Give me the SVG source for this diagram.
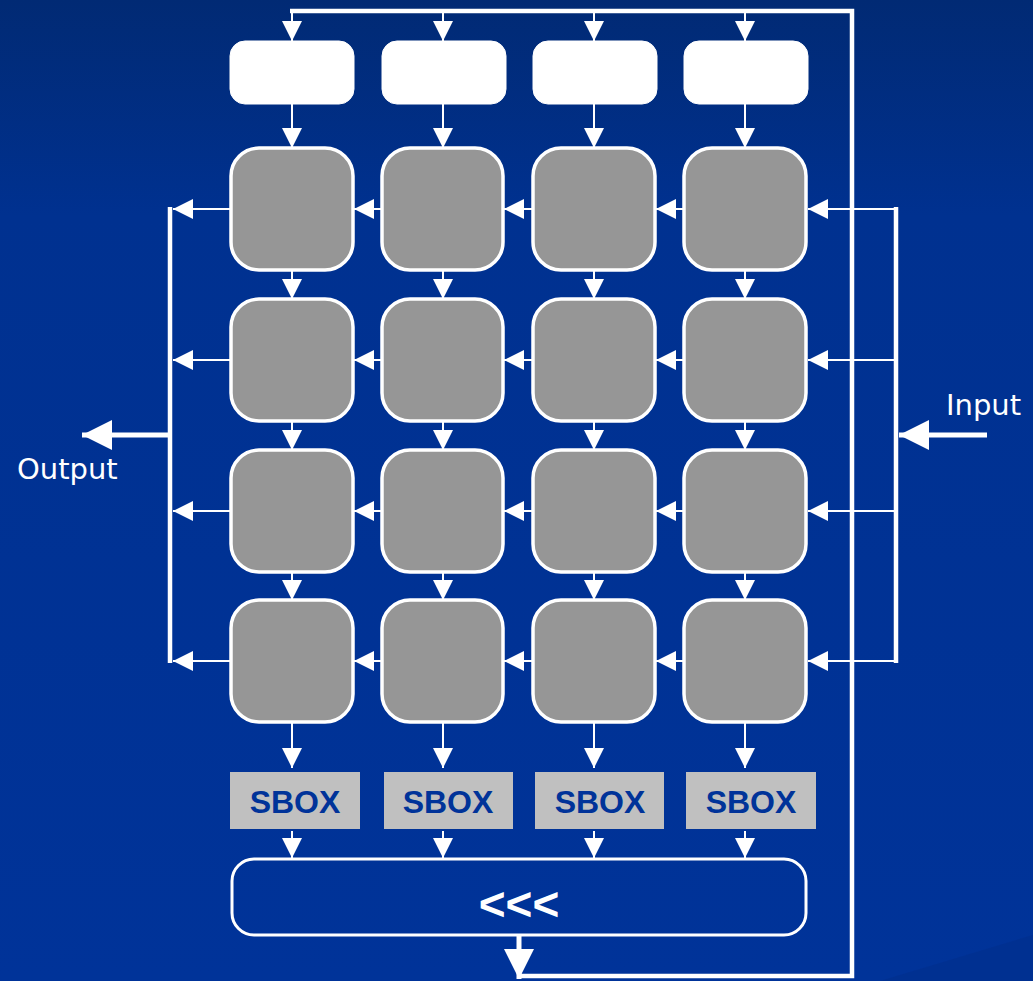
<svg xmlns="http://www.w3.org/2000/svg" width="1033" height="981" viewBox="0 0 1033 981">
<defs>
<linearGradient id="bg" x1="0" y1="0" x2="0" y2="1">
<stop offset="0" stop-color="#012a74"/>
<stop offset="0.22" stop-color="#003190"/>
<stop offset="1" stop-color="#003399"/>
</linearGradient>
<marker id="ah" markerUnits="userSpaceOnUse" markerWidth="20" markerHeight="20" refX="20" refY="10" orient="auto" viewBox="0 0 20 20">
<path d="M0,0 L20,10 L0,20 z" fill="#fff"/>
</marker>
<marker id="ahb" markerUnits="userSpaceOnUse" markerWidth="30" markerHeight="30" refX="30" refY="15" orient="auto" viewBox="0 0 30 30">
<path d="M0,0 L30,15 L0,30 z" fill="#fff"/>
</marker>
</defs>
<style>
.wb{fill:#fff;stroke:#fff;stroke-width:1}
.gb{fill:#969696;stroke:#fff;stroke-width:3.5}
.sb{fill:#c0c0c0}
.st{font-family:"Liberation Sans",Arial,sans-serif;font-weight:bold;font-size:32px;fill:#003399;text-anchor:middle}
.ca{stroke:#fff;stroke-width:2;fill:none;marker-end:url(#ah)}
.bus{stroke:#fff;stroke-width:4.5;fill:none}
.lbl{font-family:"DejaVu Sans",sans-serif;font-size:29px;fill:#fff}
</style>
<rect x="0" y="0" width="1033" height="981" fill="url(#bg)"/>
<path d="M880,981 L1033,935 L1033,981 z" fill="#002f8c" opacity="0.6"/>

<g id="connectors">
<path class="bus" d="M519,976 L852,976 L852,11 L290,11"/>
<path class="ca" d="M292,11 V41"/>
<path class="ca" d="M443,11 V41"/>
<path class="ca" d="M594,11 V41"/>
<path class="ca" d="M745,11 V41"/>
<path class="ca" d="M292,104 V148"/>
<path class="ca" d="M443,104 V148"/>
<path class="ca" d="M594,104 V148"/>
<path class="ca" d="M745,104 V148"/>
<path class="ca" d="M292,270 V299"/>
<path class="ca" d="M443,270 V299"/>
<path class="ca" d="M594,270 V299"/>
<path class="ca" d="M745,270 V299"/>
<path class="ca" d="M292,421 V450"/>
<path class="ca" d="M443,421 V450"/>
<path class="ca" d="M594,421 V450"/>
<path class="ca" d="M745,421 V450"/>
<path class="ca" d="M292,572 V600"/>
<path class="ca" d="M443,572 V600"/>
<path class="ca" d="M594,572 V600"/>
<path class="ca" d="M745,572 V600"/>
<path class="ca" d="M292,723 V768"/>
<path class="ca" d="M443,723 V768"/>
<path class="ca" d="M594,723 V768"/>
<path class="ca" d="M745,723 V768"/>
<path class="ca" d="M292,831 V858"/>
<path class="ca" d="M443,831 V858"/>
<path class="ca" d="M594,831 V858"/>
<path class="ca" d="M745,831 V858"/>
<path d="M519,936 V979" stroke="#fff" stroke-width="5" marker-end="url(#ahb)"/>
<path class="ca" d="M382,209 H354"/>
<path class="ca" d="M533,209 H504"/>
<path class="ca" d="M684,209 H656"/>
<path class="ca" d="M382,360 H354"/>
<path class="ca" d="M533,360 H504"/>
<path class="ca" d="M684,360 H656"/>
<path class="ca" d="M382,511 H354"/>
<path class="ca" d="M533,511 H504"/>
<path class="ca" d="M684,511 H656"/>
<path class="ca" d="M382,661 H354"/>
<path class="ca" d="M533,661 H504"/>
<path class="ca" d="M684,661 H656"/>
<path class="ca" d="M231,209 H173"/>
<path class="ca" d="M231,360 H173"/>
<path class="ca" d="M231,511 H173"/>
<path class="ca" d="M231,661 H173"/>
<path class="bus" d="M170,207 V663"/>
<path d="M170,435 H82" stroke="#fff" stroke-width="5" marker-end="url(#ahb)"/>
<path class="bus" stroke-width="4" d="M896,207 V663"/>
<path class="ca" d="M896,209 H808"/>
<path class="ca" d="M896,360 H808"/>
<path class="ca" d="M896,511 H808"/>
<path class="ca" d="M896,661 H808"/>
<path d="M987,435 H899" stroke="#fff" stroke-width="5" marker-end="url(#ahb)"/>
</g>

<g id="key1"><rect class="wb" x="230" y="41" width="124" height="63" rx="15"/></g>
<g id="key2"><rect class="wb" x="382" y="41" width="124" height="63" rx="15"/></g>
<g id="key3"><rect class="wb" x="533" y="41" width="124" height="63" rx="15"/></g>
<g id="key4"><rect class="wb" x="684" y="41" width="124" height="63" rx="15"/></g>

<g id="c11"><rect class="gb" x="231" y="148" width="122" height="122" rx="28"/></g>
<g id="c12"><rect class="gb" x="382" y="148" width="121" height="122" rx="28"/></g>
<g id="c13"><rect class="gb" x="533" y="148" width="122" height="122" rx="28"/></g>
<g id="c14"><rect class="gb" x="684" y="148" width="122" height="122" rx="28"/></g>
<g id="c21"><rect class="gb" x="231" y="299" width="122" height="122" rx="28"/></g>
<g id="c22"><rect class="gb" x="382" y="299" width="121" height="122" rx="28"/></g>
<g id="c23"><rect class="gb" x="533" y="299" width="122" height="122" rx="28"/></g>
<g id="c24"><rect class="gb" x="684" y="299" width="122" height="122" rx="28"/></g>
<g id="c31"><rect class="gb" x="231" y="450" width="122" height="122" rx="28"/></g>
<g id="c32"><rect class="gb" x="382" y="450" width="121" height="122" rx="28"/></g>
<g id="c33"><rect class="gb" x="533" y="450" width="122" height="122" rx="28"/></g>
<g id="c34"><rect class="gb" x="684" y="450" width="122" height="122" rx="28"/></g>
<g id="c41"><rect class="gb" x="231" y="600" width="122" height="122" rx="28"/></g>
<g id="c42"><rect class="gb" x="382" y="600" width="121" height="122" rx="28"/></g>
<g id="c43"><rect class="gb" x="533" y="600" width="122" height="122" rx="28"/></g>
<g id="c44"><rect class="gb" x="684" y="600" width="122" height="122" rx="28"/></g>

<g id="sbox1"><rect class="sb" x="230" y="772" width="130" height="57"/><text class="st" x="295" y="813">SBOX</text></g>
<g id="sbox2"><rect class="sb" x="384" y="772" width="129" height="57"/><text class="st" x="448" y="813">SBOX</text></g>
<g id="sbox3"><rect class="sb" x="535" y="772" width="129" height="57"/><text class="st" x="600" y="813">SBOX</text></g>
<g id="sbox4"><rect class="sb" x="686" y="772" width="130" height="57"/><text class="st" x="751" y="813">SBOX</text></g>

<g id="rotate"><rect x="232" y="859" width="574" height="76" rx="22" fill="none" stroke="#fff" stroke-width="3"/>
<text x="519" y="920" font-family="Liberation Sans,Arial,sans-serif" font-weight="bold" font-size="46" fill="#fff" text-anchor="middle">&lt;&lt;&lt;</text></g>

<g id="output"><text class="lbl" x="17" y="479">Output</text></g>
<g id="input"><text class="lbl" x="946" y="415">Input</text></g>
</svg>
